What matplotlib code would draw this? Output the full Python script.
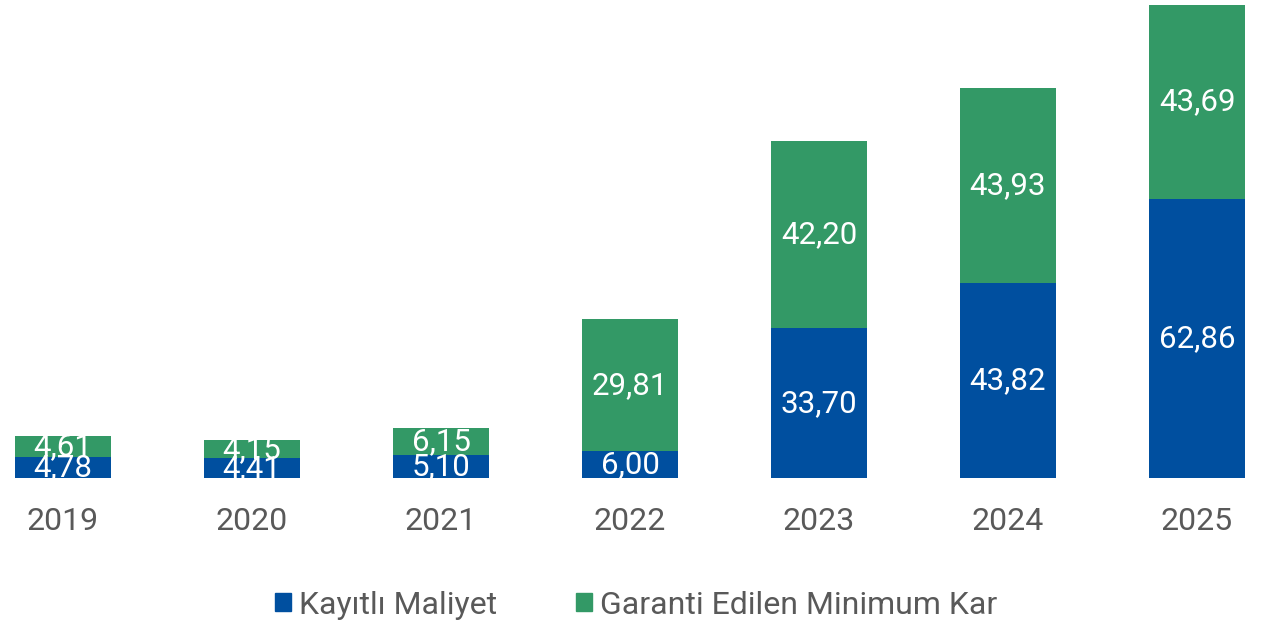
import matplotlib.pyplot as plt
from matplotlib.patches import Rectangle

plt.rcParams["font.family"] = ["Roboto", "DejaVu Sans"]

years = ["2019", "2020", "2021", "2022", "2023", "2024", "2025"]
kayitli_maliyet = [4.78, 4.41, 5.10, 6.00, 33.70, 43.82, 62.86]
garanti_kar = [4.61, 4.15, 6.15, 29.81, 42.20, 43.93, 43.69]

series_labels = ["Kayıtlı Maliyet", "Garanti Edilen Minimum Kar"]
BLUE = "#004f9f"
GREEN = "#339966"
GREY = "#595959"


def fmt(value: float) -> str:
    return f"{value:.2f}".replace(".", ",")


fig = plt.figure(figsize=(12.72, 6.25), dpi=100)
# axes placed so bar centres and baseline line up with the reference
ax = fig.add_axes([0, (625 - 478) / 625, 1, 473 / 625])

x = list(range(len(years)))
totals = [a + b for a, b in zip(kayitli_maliyet, garanti_kar)]

ax.bar(x, kayitli_maliyet, width=0.51, color=BLUE)
ax.bar(x, garanti_kar, width=0.51, bottom=kayitli_maliyet, color=GREEN)

for i, (a, b) in enumerate(zip(kayitli_maliyet, garanti_kar)):
    ax.text(i, a / 2, fmt(a), ha="center", va="center", color="white", fontsize=22.5)
    ax.text(i, a + b / 2, fmt(b), ha="center", va="center", color="white", fontsize=22.5)

ax.set_xlim(-63 / 189, (1272 - 63) / 189)
ax.set_ylim(0, max(totals))
ax.set_xticks(x)
ax.set_xticklabels(years, fontsize=23, color=GREY)
ax.tick_params(axis="x", length=0, pad=21)
ax.set_yticks([])
for spine in ax.spines.values():
    spine.set_visible(False)

handles = [Rectangle((0, 0), 1, 1, color=BLUE), Rectangle((0, 0), 1, 1, color=GREEN)]
fig.legend(
    handles,
    series_labels,
    loc="center",
    bbox_to_anchor=(0.5, (625 - 605) / 625),
    ncol=2,
    frameon=False,
    fontsize=23,
    labelcolor=GREY,
    handlelength=0.5,
    handleheight=0.5,
    handletextpad=0.25,
    columnspacing=2.45,
)

fig.savefig("out.png", dpi=100)
